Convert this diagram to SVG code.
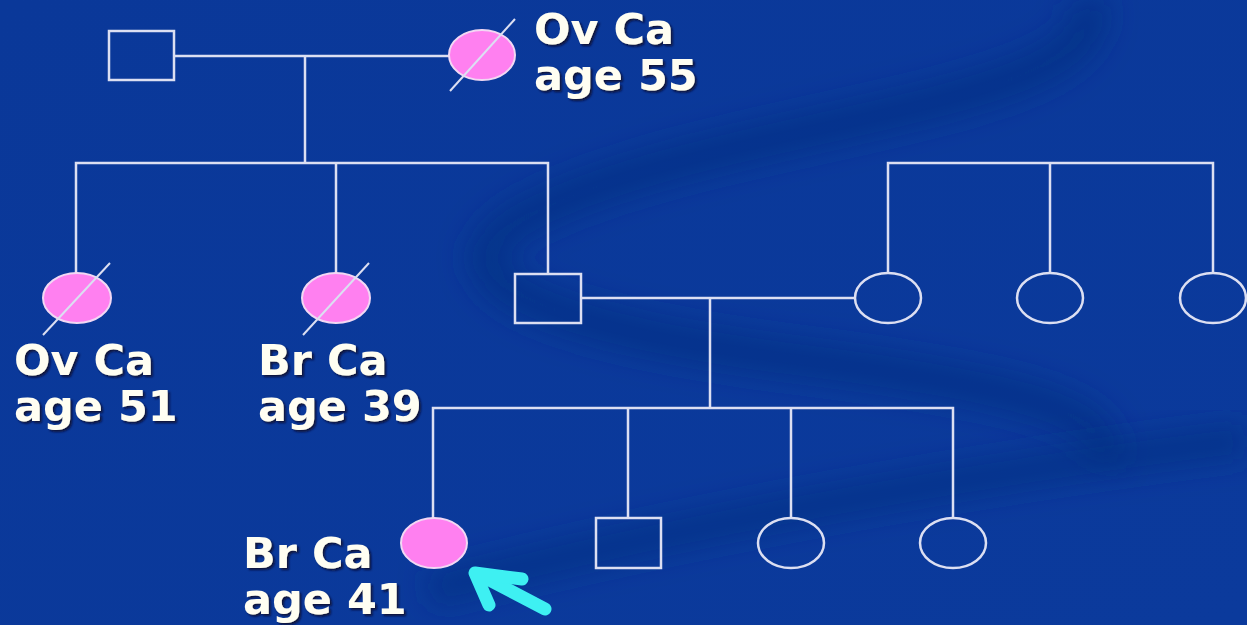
<svg xmlns="http://www.w3.org/2000/svg" width="1247" height="625" viewBox="0 0 1247 625">
  <defs>
    <linearGradient id="bg" x1="0" y1="0" x2="1" y2="1">
      <stop offset="0" stop-color="#0a3899"/>
      <stop offset="1" stop-color="#0b3a9c"/>
    </linearGradient>
    <filter id="shadow" x="-10%" y="-20%" width="130%" height="150%">
      <feDropShadow dx="2" dy="2" stdDeviation="1.2" flood-color="#101030" flood-opacity="0.9"/>
    </filter>
    <filter id="soft" x="-20%" y="-20%" width="140%" height="140%">
      <feGaussianBlur stdDeviation="14"/>
    </filter>
    <style>
      .ln { stroke: #dcdff2; stroke-width: 2.5; fill: none; }
      .male { stroke: #dcdff2; stroke-width: 2.5; fill: none; }
      .fem { stroke: #dcdff2; stroke-width: 2.5; fill: none; }
      .aff { stroke: #f2d8f4; stroke-width: 2; fill: #ff80f0; }
      .dec { stroke: #dcdff2; stroke-width: 2; }
      .lbl { font-family: "DejaVu Sans", Verdana, sans-serif; font-weight: bold; font-size: 43px; fill: #fffef2; filter: url(#shadow); }
      .swirl { fill: none; stroke: #062d80; stroke-opacity: 0.55; filter: url(#soft); }
      .pointer { stroke: #3ef0f2; stroke-width: 13; stroke-linecap: round; stroke-linejoin: round; fill: none; }
    </style>
  </defs>

  <!-- backdrop with faint swirl -->
  <rect width="1247" height="625" fill="url(#bg)"/>
  <g id="backdrop">
    <path class="swirl" stroke-width="40" d="M1085,0 C1130,110 700,120 520,220 C420,280 560,330 800,360 C1000,385 1120,410 1100,460"/>
    <path class="swirl" stroke-width="34" d="M430,590 C700,520 1000,470 1247,440"/>
  </g>

  <!-- connectors -->
  <g id="connectors">
    <line class="ln" x1="174" y1="56" x2="449" y2="56"/>
    <line class="ln" x1="305" y1="56" x2="305" y2="163"/>
    <polyline class="ln" points="76,273 76,163 548,163 548,274"/>
    <line class="ln" x1="336" y1="163" x2="336" y2="273"/>
    <line class="ln" x1="581" y1="298" x2="855" y2="298"/>
    <polyline class="ln" points="888,273 888,163 1213,163 1213,273"/>
    <line class="ln" x1="1050" y1="163" x2="1050" y2="273"/>
    <line class="ln" x1="710" y1="298" x2="710" y2="408"/>
    <polyline class="ln" points="433,518 433,408 953,408 953,518"/>
    <line class="ln" x1="628" y1="408" x2="628" y2="518"/>
    <line class="ln" x1="791" y1="408" x2="791" y2="518"/>
  </g>

  <!-- generation I -->
  <g id="grandfather">
    <rect class="male" x="109" y="31" width="65" height="49"/>
  </g>
  <g id="grandmother">
    <ellipse class="aff" cx="482" cy="55" rx="33" ry="25"/>
    <line class="dec" x1="450" y1="91" x2="515" y2="19"/>
    <text class="lbl" x="534" y="44">Ov Ca</text>
    <text class="lbl" x="534" y="90">age 55</text>
  </g>

  <!-- generation II -->
  <g id="aunt1">
    <ellipse class="aff" cx="77" cy="298" rx="34" ry="25"/>
    <line class="dec" x1="43" y1="335" x2="110" y2="263"/>
    <text class="lbl" x="14" y="375">Ov Ca</text>
    <text class="lbl" x="14" y="421">age 51</text>
  </g>
  <g id="aunt2">
    <ellipse class="aff" cx="336" cy="298" rx="34" ry="25"/>
    <line class="dec" x1="303" y1="335" x2="369" y2="263"/>
    <text class="lbl" x="258" y="375">Br Ca</text>
    <text class="lbl" x="258" y="421">age 39</text>
  </g>
  <g id="father">
    <rect class="male" x="515" y="274" width="66" height="49"/>
  </g>
  <g id="mother">
    <ellipse class="fem" cx="888" cy="298" rx="33" ry="25"/>
  </g>
  <g id="maternal-aunt1">
    <ellipse class="fem" cx="1050" cy="298" rx="33" ry="25"/>
  </g>
  <g id="maternal-aunt2">
    <ellipse class="fem" cx="1213" cy="298" rx="33" ry="25"/>
  </g>

  <!-- generation III -->
  <g id="proband">
    <ellipse class="aff" cx="434" cy="543" rx="33" ry="25"/>
    <text class="lbl" x="243" y="568">Br Ca</text>
    <text class="lbl" x="243" y="614">age 41</text>
    <!-- proband pointer: shaft and chevron head -->
    <g class="pointer">
      <line x1="545" y1="609" x2="480" y2="575"/>
      <polyline points="522,579 475,573 489,605"/>
    </g>
  </g>
  <g id="brother">
    <rect class="male" x="596" y="518" width="65" height="50"/>
  </g>
  <g id="sister1">
    <ellipse class="fem" cx="791" cy="543" rx="33" ry="25"/>
  </g>
  <g id="sister2">
    <ellipse class="fem" cx="953" cy="543" rx="33" ry="25"/>
  </g>
</svg>
